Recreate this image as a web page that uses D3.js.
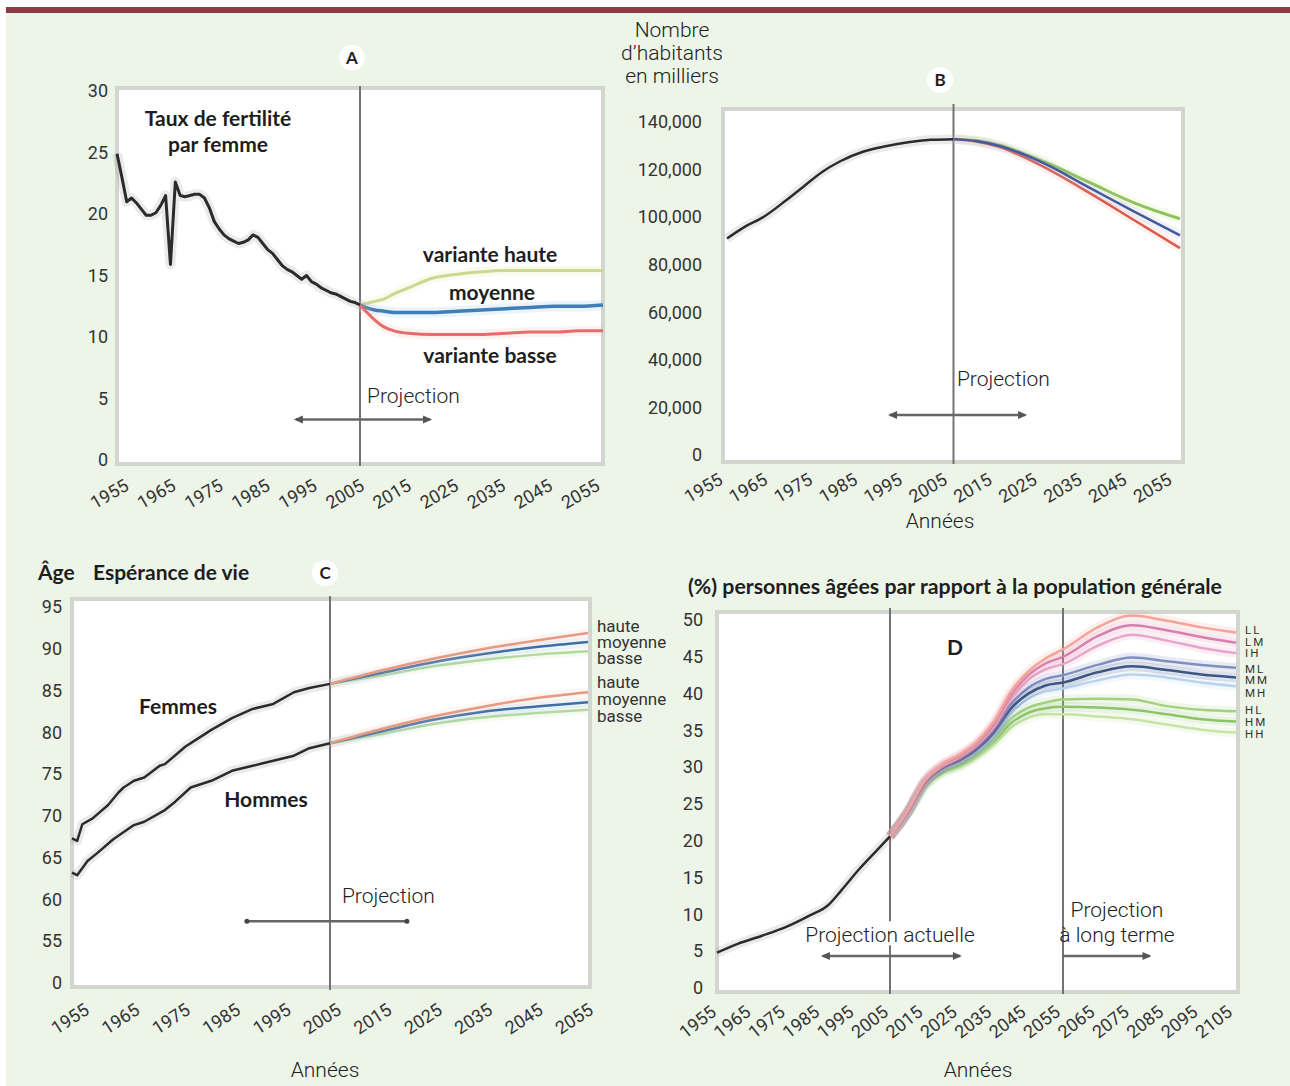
<!DOCTYPE html>
<html>
<head>
<meta charset="utf-8">
<script src="https://cdn.jsdelivr.net/npm/d3@7"></script>
<style>
  body { margin: 0; background: #fff; }
  text { font-family: Roboto, "Open Sans", sans-serif; fill: #262626; }
  .tick text { font-size: 18px; font-weight: 400; fill: #333; }
  .lbl { font-size: 21px; font-weight: 300; fill: #222; }
  .bold { font-family: Lato, "Open Sans", sans-serif; font-weight: 700; font-size: 21px; fill: #1e1e1e; }
  .small { font-size: 17px; font-weight: 400; fill: #333; }
  .code { font-size: 11.5px; font-weight: 400; letter-spacing: 2px; fill: #333; }
</style>
</head>
<body>
<svg id="fig" width="1290" height="1086"></svg>
<script>
// ---- data : A, fertilité (axis units, 30 = 3.0 enfants)
const yearsFert = [1955,1956,1957,1958,1959,1960,1961,1962,1963,1964,1965,1966,1967,1968,1969,1970,
  1971,1972,1973,1974,1975,1976,1977,1978,1979,1980,1981,1982,1983,1984,1985,1986,1987,1988,1989,1990,
  1991,1992,1993,1994,1995,1996,1997,1998,1999,2000,2001,2002,2003,2004,2005];
const fert = [24.9,23.0,21.0,21.3,20.9,20.4,19.9,19.9,20.1,20.7,21.5,15.9,22.6,21.5,21.4,21.5,
  21.6,21.6,21.3,20.5,19.4,18.8,18.3,18.0,17.8,17.6,17.7,17.9,18.3,18.1,17.6,17.1,16.8,16.3,15.8,15.5,
  15.3,15.0,14.7,15.0,14.5,14.3,14.0,13.8,13.6,13.5,13.3,13.1,12.9,12.8,12.6];
const yearsFertProj = [2005,2008,2010,2012,2015,2020,2025,2030,2035,2040,2045,2050,2055];
const fertHaute   = [12.6,12.9,13.1,13.5,14.0,14.8,15.1,15.3,15.4,15.4,15.4,15.4,15.4];
const fertMoyenne = [12.6,12.2,12.1,12.0,12.0,12.0,12.1,12.2,12.3,12.4,12.5,12.5,12.6];
const fertBasse   = [12.6,11.4,10.8,10.5,10.3,10.2,10.2,10.2,10.3,10.4,10.4,10.5,10.5];

// ---- B, population (milliers)
const yearsPop = [1955,1959,1963,1968,1972,1976,1980,1985,1990,1995,2000,2005];
const pop = [91000,96000,100000,107000,113000,119000,123500,127500,129800,131500,132500,132800];
const yearsPopProj = [2005,2010,2015,2025,2035,2045,2055];
const popHaute   = [132800,132200,130300,123300,114600,105900,99300];
const popMoyenne = [132800,132000,130000,122600,112400,102200,92300];
const popBasse   = [132800,131800,129600,121000,110200,98600,87000];

// ---- C, espérance de vie
const yearsFemmes = [1955,1956,1957,1959,1962,1964,1965,1967,1969,1972,1973,1977,1979,1982,1986,1990,1994,1998,2001,2005];
const femmes = [67.3,67.0,69.0,69.7,71.3,72.8,73.4,74.2,74.6,76.0,76.2,78.3,79.1,80.3,81.7,82.8,83.4,84.8,85.3,85.8];
const yearsHommes = [1955,1956,1958,1960,1963,1967,1969,1973,1975,1978,1982,1986,1990,1994,1998,2001,2005];
const hommes = [63.2,62.9,64.6,65.6,67.2,68.9,69.3,70.7,71.7,73.4,74.2,75.4,76.0,76.6,77.2,78.1,78.7];
const yearsVieProj = [2005,2015,2025,2035,2045,2055];
const femmesHaute   = [85.8,87.4,88.8,90.0,91.0,91.9];
const femmesMoyenne = [85.8,87.1,88.4,89.4,90.2,90.8];
const femmesBasse   = [85.8,86.8,87.9,88.7,89.3,89.7];
const hommesHaute   = [78.7,80.4,81.9,83.1,84.1,84.8];
const hommesMoyenne = [78.7,80.1,81.5,82.5,83.1,83.6];
const hommesBasse   = [78.7,79.8,81.0,81.8,82.3,82.7];
const varianteNoms = ["haute", "moyenne", "basse"];
const vieLabelY = [92.7, 90.8, 88.9, 86.0, 84.0, 82.0];

// ---- D, part des personnes âgées (%)
const yearsAges = [1955,1961,1968,1975,1982,1987,1991,1996,2001,2005];
const ages = [4.8,6.0,7.1,8.3,9.9,11.2,13.3,16.1,18.6,20.6];
const yearsAgesProj = [2005,2010,2015,2020,2025,2030,2035,2040,2045,2050,2055,2065,2075,2085,2095,2105];
const agesLL = [20.6,24.0,28.2,30.4,31.7,33.4,36.2,40.3,43.0,44.8,46.0,49.0,50.6,49.9,49.0,48.3];
const agesLM = [20.6,23.9,28.1,30.3,31.5,33.2,35.8,39.8,42.5,44.1,45.0,47.8,49.3,48.6,47.7,46.9];
const agesIH = [20.6,23.9,28.0,30.1,31.3,33.0,35.5,39.3,41.9,43.3,44.0,46.5,48.0,47.2,46.2,45.5];
const agesML = [20.6,23.8,27.9,30.0,31.1,32.7,35.1,38.6,40.8,42.0,42.5,43.9,44.9,44.4,43.9,43.5];
const agesMM = [20.6,23.8,27.8,29.8,30.9,32.4,34.7,38.0,40.0,41.1,41.5,42.9,43.7,43.2,42.6,42.2];
const agesMH = [20.6,23.7,27.7,29.7,30.7,32.1,34.3,37.4,39.3,40.3,40.7,41.8,42.6,42.2,41.5,41.0];
const agesHL = [20.6,23.7,27.5,29.5,30.4,31.8,33.8,36.6,38.1,38.8,39.2,39.3,39.2,38.3,37.8,37.6];
const agesHM = [20.6,23.6,27.4,29.3,30.2,31.6,33.5,36.0,37.4,38.0,38.2,38.1,37.8,37.2,36.5,36.2];
const agesHH = [20.6,23.6,27.3,29.1,30.0,31.3,33.1,35.4,36.7,37.2,37.2,36.9,36.5,35.8,35.1,34.7];
const scenarioNoms = ["LL","LM","IH","ML","MM","MH","HL","HM","HH"];
const scenarioLabelY = [48.6,47.0,45.5,43.3,41.8,40.1,37.8,36.1,34.5];

// ---- ticks
const yearTicks = d3.range(1955, 2056, 10);
const yearTicksD = d3.range(1955, 2106, 10);
const fertTicks = [0,5,10,15,20,25,30];
const popTicks = [0,20000,40000,60000,80000,100000,120000,140000];
const vieTicks = [50,55,60,65,70,75,80,85,90,95];
const vieTickLabels = ["0","55","60","65","70","75","80","85","90","95"];
const agesTicks = [0,5,10,15,20,25,30,35,40,45,50];

const svg = d3.select("#fig");
svg.append("rect").attr("width", 1290).attr("height", 1086).attr("fill", "#fff");
svg.append("rect").attr("x", 6).attr("y", 13).attr("width", 1284).attr("height", 1073).attr("fill", "#edf5e8");
svg.append("rect").attr("x", 6).attr("y", 7).attr("width", 1284).attr("height", 6).attr("fill", "#8d3b47");

function frame(x0, y0, x1, y1) {
  svg.append("rect").attr("x", x0).attr("y", y0).attr("width", x1 - x0).attr("height", y1 - y0)
    .attr("fill", "#fff").attr("stroke", "#d2d6cf").attr("stroke-width", 4);
}

function yAxis(sc, ticks, fmt, xPos) {
  const a = svg.append("g").attr("transform", `translate(${xPos},0)`)
    .call(d3.axisLeft(sc).tickValues(ticks).tickFormat(fmt).tickSize(0).tickPadding(0));
  a.select(".domain").remove();
}

// tick labels sit on their own scale: the printed labels are slightly tighter than the plot
function xAxis(lblScale, ticks, yTop, angle) {
  const a = svg.append("g").attr("transform", `translate(0,${yTop})`)
    .call(d3.axisBottom(lblScale).tickValues(ticks).tickFormat(d3.format("d")).tickSize(0).tickPadding(0));
  a.select(".domain").remove();
  a.selectAll("text").attr("text-anchor", "end").attr("y", 0).attr("dy", "0.72em")
    .attr("transform", `rotate(${angle})`);
}

function vline(sc, yr, y0, y1) {
  svg.append("line").attr("x1", sc(yr)).attr("x2", sc(yr)).attr("y1", y0).attr("y2", y1)
    .attr("stroke", "#737373").attr("stroke-width", 2);
}

function drawLine(xs, ys, x, y, color, width, curve, halo) {
  const pts = xs.map((d, i) => [d, ys[i]]);
  const gen = d3.line().x(d => x(d[0])).y(d => y(d[1])).curve(curve);
  svg.append("path").attr("d", gen(pts)).attr("fill", "none")
    .attr("stroke", halo).attr("stroke-opacity", 0.18).attr("stroke-width", width + 7)
    .attr("stroke-linejoin", "round");
  svg.append("path").attr("d", gen(pts)).attr("fill", "none")
    .attr("stroke", color).attr("stroke-width", width).attr("stroke-linejoin", "round");
}

function arrow(x1, x2, y, left, right) {
  svg.append("line").attr("x1", x1).attr("x2", x2).attr("y1", y).attr("y2", y)
    .attr("stroke", "#666").attr("stroke-width", 2.5);
  if (left) svg.append("path").attr("d", `M${x1 - 2},${y} l9,-4 l0,8 z`).attr("fill", "#555");
  if (right) svg.append("path").attr("d", `M${x2 + 2},${y} l-9,-4 l0,8 z`).attr("fill", "#555");
  if (!left && !right) {
    svg.append("circle").attr("cx", x1).attr("cy", y).attr("r", 2.5).attr("fill", "#444");
    svg.append("circle").attr("cx", x2).attr("cy", y).attr("r", 2.5).attr("fill", "#444");
  }
}

function badge(x, y, t) {
  svg.append("circle").attr("cx", x).attr("cy", y).attr("r", 13).attr("fill", "#fff");
  svg.append("text").attr("class", "bold").attr("x", x).attr("y", y + 6)
    .attr("text-anchor", "middle").style("font-size", "17px").text(t);
}

// ================= A =================
const xA = d3.scaleLinear().domain([1955, 2055]).range([117, 603]);
const yA = d3.scaleLinear().domain([0, 30]).range([460, 91]);
const lblA = d3.scaleLinear().domain([1955, 2055]).range([123, 594]);
frame(117, 88, 603, 464);
vline(xA, 2005, 86, 466);
yAxis(yA, fertTicks, d => d, 108);
xAxis(lblA, yearTicks, 478, -30);
drawLine(yearsFertProj, fertHaute, xA, yA, "#cbd98f", 3, d3.curveMonotoneX, "#dfe8a8");
drawLine(yearsFertProj, fertMoyenne, xA, yA, "#3f7fb6", 3.5, d3.curveMonotoneX, "#8fc3e6");
drawLine(yearsFertProj, fertBasse, xA, yA, "#e36c6c", 3, d3.curveMonotoneX, "#f4b6a8");
drawLine(yearsFert, fert, xA, yA, "#2b2b2b", 3, d3.curveLinear, "#888");
svg.append("text").attr("class", "bold").attr("x", 218).attr("y", 126).attr("text-anchor", "middle").text("Taux de fertilité");
svg.append("text").attr("class", "bold").attr("x", 218).attr("y", 152).attr("text-anchor", "middle").text("par femme");
svg.append("text").attr("class", "bold").attr("x", 490).attr("y", 262).attr("text-anchor", "middle").text("variante haute");
svg.append("text").attr("class", "bold").attr("x", 492).attr("y", 300).attr("text-anchor", "middle").text("moyenne");
svg.append("text").attr("class", "bold").attr("x", 490).attr("y", 363).attr("text-anchor", "middle").text("variante basse");
svg.append("text").attr("class", "lbl").attr("x", xA(2016)).attr("y", yA(4.6)).attr("text-anchor", "middle").text("Projection");
arrow(xA(1991.8), xA(2019.4), yA(3.3), true, true);
badge(352, 58, "A");

// ================= B =================
const xB = d3.scaleLinear().domain([1955, 2055]).range([727, 1180]);
const yB = d3.scaleLinear().domain([0, 140000]).range([455, 122]);
const lblB = d3.scaleLinear().domain([1955, 2055]).range([717, 1166]);
frame(723, 109, 1183, 462);
vline(xB, 2005, 104, 464);
yAxis(yB, popTicks, d3.format(","), 702);
xAxis(lblB, yearTicks, 472, -30);
drawLine(yearsPop, pop, xB, yB, "#2b2b2b", 2.5, d3.curveMonotoneX, "#888");
drawLine(yearsPopProj, popHaute, xB, yB, "#8cc45a", 3, d3.curveMonotoneX, "#d8e88a");
drawLine(yearsPopProj, popBasse, xB, yB, "#e0584c", 2.5, d3.curveMonotoneX, "#f2b0a0");
drawLine(yearsPopProj, popMoyenne, xB, yB, "#45599f", 2.5, d3.curveMonotoneX, "#a9b6e0");
["Nombre", "d\u2019habitants", "en milliers"].forEach((t, i) => {
  svg.append("text").attr("class", "lbl").attr("x", 672).attr("y", 37 + i * 23).attr("text-anchor", "middle").text(t);
});
svg.append("text").attr("class", "lbl").attr("x", xB(2016)).attr("y", yB(29000)).attr("text-anchor", "middle").text("Projection");
arrow(xB(1991), xB(2020.8), yB(16800), true, true);
svg.append("text").attr("class", "lbl").attr("x", 940).attr("y", 528).attr("text-anchor", "middle").text("Années");
badge(940, 80, "B");

// ================= C =================
const xC = d3.scaleLinear().domain([1955, 2055]).range([72, 588]);
const yC = d3.scaleLinear().domain([50, 95]).range([983, 607]);
const lblC = d3.scaleLinear().domain([1955, 2055]).range([83, 587]);
frame(72, 599, 590, 987);
vline(xC, 2005, 596, 990);
yAxis(yC, vieTicks, (d, i) => vieTickLabels[i], 62);
xAxis(lblC, yearTicks, 1002, -33);
const vieProj = [
  [femmesBasse, "#b2d9a0", "#cfe9b8"], [femmesMoyenne, "#3f6ea6", "#9ec6e6"], [femmesHaute, "#e59a82", "#f6c7b0"],
  [hommesBasse, "#b2d9a0", "#cfe9b8"], [hommesMoyenne, "#3f6ea6", "#9ec6e6"], [hommesHaute, "#e59a82", "#f6c7b0"]
];
vieProj.forEach(s => drawLine(yearsVieProj, s[0], xC, yC, s[1], 2.5, d3.curveMonotoneX, s[2]));
drawLine(yearsFemmes, femmes, xC, yC, "#2b2b2b", 2.5, d3.curveLinear, "#888");
drawLine(yearsHommes, hommes, xC, yC, "#2b2b2b", 2.5, d3.curveLinear, "#888");
vieLabelY.forEach((v, i) => {
  svg.append("text").attr("class", "small").attr("x", 597).attr("y", yC(v)).attr("dy", "0.35em").text(varianteNoms[i % 3]);
});
svg.append("text").attr("class", "bold").attr("x", 38).attr("y", 580).text("Âge");
svg.append("text").attr("class", "bold").attr("x", 93).attr("y", 580).text("Espérance de vie");
svg.append("text").attr("class", "bold").attr("x", 178).attr("y", 714).attr("text-anchor", "middle").text("Femmes");
svg.append("text").attr("class", "bold").attr("x", 266).attr("y", 807).attr("text-anchor", "middle").text("Hommes");
svg.append("text").attr("class", "lbl").attr("x", xC(2016.3)).attr("y", yC(59.6)).attr("text-anchor", "middle").text("Projection");
arrow(xC(1988.9), xC(2019.9), yC(57.4), false, false);
svg.append("text").attr("class", "lbl").attr("x", 325).attr("y", 1077).attr("text-anchor", "middle").text("Années");
badge(325, 573, "C");

// ================= D =================
const xD = d3.scaleLinear().domain([1955, 2105]).range([717, 1236]);
const yD = d3.scaleLinear().domain([0, 50]).range([988, 620]);
const lblD = d3.scaleLinear().domain([1955, 2105]).range([709, 1225]);
frame(717, 612, 1238, 992);
vline(xD, 2005, 608, 994);
vline(xD, 2055, 608, 994);
yAxis(yD, agesTicks, d => d, 703);
xAxis(lblD, yearTicksD, 1004, -38);
const agesSeries = [agesHH, agesHM, agesHL, agesMH, agesML, agesMM, agesIH, agesLM, agesLL];
const agesColors = ["#c8e3a8", "#8cc46a", "#a3d07e", "#b9d3ec", "#7f90c0", "#3d5688", "#e7a6c9", "#d77fae", "#f2a49a"];
agesSeries.forEach((s, i) => drawLine(yearsAgesProj, s, xD, yD, agesColors[i], 2.5, d3.curveMonotoneX, agesColors[i]));
drawLine(yearsAges, ages, xD, yD, "#2b2b2b", 2.5, d3.curveMonotoneX, "#888");
scenarioLabelY.forEach((v, i) => {
  svg.append("text").attr("class", "code").attr("x", 1245).attr("y", yD(v)).attr("dy", "0.35em").text(scenarioNoms[i]);
});
svg.append("text").attr("class", "bold").attr("x", 688).attr("y", 594)
  .attr("textLength", 534).attr("lengthAdjust", "spacingAndGlyphs")
  .text("(%) personnes âgées par rapport à la population générale");
svg.append("text").attr("class", "bold").attr("x", xD(2023.8)).attr("y", 655).attr("text-anchor", "middle").text("D");
svg.append("rect").attr("x", xD(1988)).attr("y", yD(7.3) - 13).attr("width", xD(2022) - xD(1988)).attr("height", 24).attr("fill", "#fff");
svg.append("text").attr("class", "lbl").attr("x", xD(2005)).attr("y", yD(7.3)).attr("dy", "0.35em").attr("text-anchor", "middle").text("Projection actuelle");
arrow(xD(1985.6), xD(2025.2), yD(4.35), true, true);
svg.append("text").attr("class", "lbl").attr("x", xD(2070.6)).attr("y", yD(10.6)).attr("dy", "0.35em").attr("text-anchor", "middle").text("Projection");
svg.append("text").attr("class", "lbl").attr("x", xD(2070.6)).attr("y", yD(7.3)).attr("dy", "0.35em").attr("text-anchor", "middle").text("à long terme");
arrow(xD(2055), xD(2080), yD(4.35), false, true);
svg.append("text").attr("class", "lbl").attr("x", 978).attr("y", 1077).attr("text-anchor", "middle").text("Années");
</script>
</body>
</html>
